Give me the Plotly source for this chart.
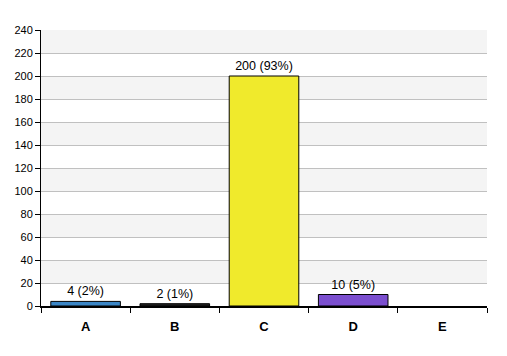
import plotly.graph_objects as go

categories = ["A", "B", "C", "D", "E"]
values = [4, 2, 200, 10, 0]
percents = ["2%", "1%", "93%", "5%", ""]
colors = ["#3b86c6", "#222222", "#f0ea2c", "#7b4fcf", "#888888"]
outline_widths = [1, 1, 1, 1, 0]
y_ticks = list(range(0, 241, 20))

labels = [f"{v} ({p})" if v > 0 else "" for v, p in zip(values, percents)]

fig = go.Figure(go.Bar(
    x=categories, y=values, width=0.78,
    marker=dict(color=colors, line=dict(color="#000000", width=outline_widths)),
    text=labels, textposition="outside", cliponaxis=False,
    textfont=dict(family="Liberation Sans, Arial", size=12.5, color="#000000"),
))

shapes = []
for i in range(1, len(y_ticks) - 1, 2):
    shapes.append(dict(type="rect", xref="paper", yref="y", x0=0, x1=1,
                       y0=y_ticks[i], y1=y_ticks[i + 1],
                       fillcolor="#f4f4f4", line=dict(width=0), layer="below"))

fig.update_layout(
    width=507, height=356,
    margin=dict(l=33, r=28, t=22, b=58, autoexpand=False),
    paper_bgcolor="white", plot_bgcolor="white",
    shapes=shapes, showlegend=False,
    font=dict(family="Liberation Sans, Arial", size=11, color="#000000"),
)
fig.update_xaxes(
    type="category", range=[-0.5, 4.5], tickson="boundaries",
    ticks="outside", ticklen=5, tickcolor="#000000",
    showline=True, linecolor="#000000", linewidth=2, showgrid=False,
    ticklabelstandoff=7,
    tickfont=dict(family="Liberation Sans, Arial", size=13, color="#000000", weight="bold"),
)
fig.update_yaxes(
    range=[0, 240], tickvals=y_ticks, ticks="outside", ticklen=5,
    tickcolor="#000000", showline=True, linecolor="#000000", linewidth=1,
    showgrid=True, gridcolor="#c0c0c0", gridwidth=1, zeroline=False,
    tickfont=dict(family="Liberation Sans, Arial", size=11, color="#000000"),
)

fig.write_html("out.html")
